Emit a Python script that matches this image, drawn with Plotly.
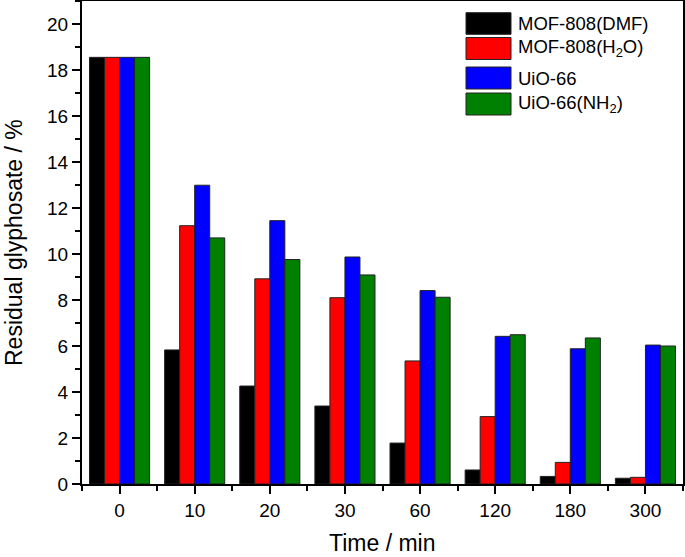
import plotly.graph_objects as go

categories = ["0", "10", "20", "30", "60", "120", "180", "300"]
series_names = ["MOF-808(DMF)", "MOF-808(H<sub>2</sub>O)", "UiO-66", "UiO-66(NH<sub>2</sub>)"]
mof808_dmf = [18.55, 5.83, 4.26, 3.39, 1.78, 0.61, 0.33, 0.25]
mof808_h2o = [18.55, 11.23, 8.92, 8.10, 5.35, 2.93, 0.94, 0.29]
uio66 = [18.55, 12.99, 11.45, 9.87, 8.41, 6.42, 5.88, 6.04]
uio66_nh2 = [18.55, 10.70, 9.76, 9.09, 8.12, 6.49, 6.35, 6.00]
colors = ["#000000", "#FF0000", "#0000FF", "#008000"]
x_title = "Time / min"
y_title = "Residual glyphosate / %"

x_idx = list(range(len(categories)))
font_family = "Arial, 'Liberation Sans', sans-serif"

fig = go.Figure()
for name, vals, col in zip(series_names, [mof808_dmf, mof808_h2o, uio66, uio66_nh2], colors):
    fig.add_trace(go.Bar(
        x=x_idx, y=vals, name=name,
        marker=dict(color=col, line=dict(color="#222222", width=1)),
        showlegend=False,
    ))

# plot area geometry in px
L, T, H, W = 82, 1, 483, 601
def px_x(p):
    return (p - L) / W
def px_y(p):
    return (T + H - p) / H

rows = [(12.7, 34.3), (37.5, 59.5), (67, 89), (93, 115)]
shapes = []
annotations = []
for (ya, yb), name, col in zip(rows, series_names, colors):
    shapes.append(dict(type="rect", xref="paper", yref="paper",
                       x0=px_x(466), x1=px_x(511), y0=px_y(yb), y1=px_y(ya),
                       fillcolor=col, line=dict(color="#222222", width=1)))
    annotations.append(dict(xref="paper", yref="paper", x=px_x(516), y=px_y((ya + yb) / 2),
                            text=name, showarrow=False, xanchor="left", yanchor="middle",
                            font=dict(size=18.5, color="#000000", family=font_family)))

annotations.append(dict(xref="paper", yref="paper", x=0.5, y=px_y(543),
                        text=x_title, showarrow=False, xanchor="center", yanchor="middle",
                        font=dict(size=23, color="#000000", family=font_family)))
annotations.append(dict(xref="paper", yref="paper", x=px_x(14), y=px_y(243),
                        text=y_title, showarrow=False, xanchor="center", yanchor="middle",
                        textangle=-90,
                        font=dict(size=23, color="#000000", family=font_family)))

fig.update_layout(
    width=685, height=557,
    margin=dict(l=L, r=685 - L - W, t=T, b=557 - T - H),
    paper_bgcolor="white", plot_bgcolor="white",
    barmode="group", bargap=0.2, bargroupgap=0,
    font=dict(family=font_family, color="#000000"),
    shapes=shapes, annotations=annotations,
)
fig.update_xaxes(
    range=[-0.5, 7.5], tickmode="array", tickvals=x_idx, ticktext=categories,
    showline=True, linecolor="black", linewidth=2, mirror=True,
    ticks="outside", ticklen=8, tickwidth=1.5, tickcolor="black",
    minor=dict(tick0=0.5, dtick=1, ticks="outside", ticklen=5, tickwidth=1.5, tickcolor="black"),
    showgrid=False, zeroline=False, automargin=False,
    tickfont=dict(size=19, family=font_family),
)
fig.update_yaxes(
    range=[0, 21], tickmode="linear", tick0=0, dtick=2,
    showline=True, linecolor="black", linewidth=2, mirror=True,
    ticks="outside", ticklen=8, tickwidth=1.5, tickcolor="black",
    minor=dict(tick0=1, dtick=2, ticks="outside", ticklen=5, tickwidth=1.5, tickcolor="black"),
    showgrid=False, zeroline=False, automargin=False,
    tickfont=dict(size=19, family=font_family),
)
fig.write_html(
    "out.html",
    config={"displayModeBar": False},
    post_script="document.body.style.margin='0';document.body.style.overflow='hidden';",
)
